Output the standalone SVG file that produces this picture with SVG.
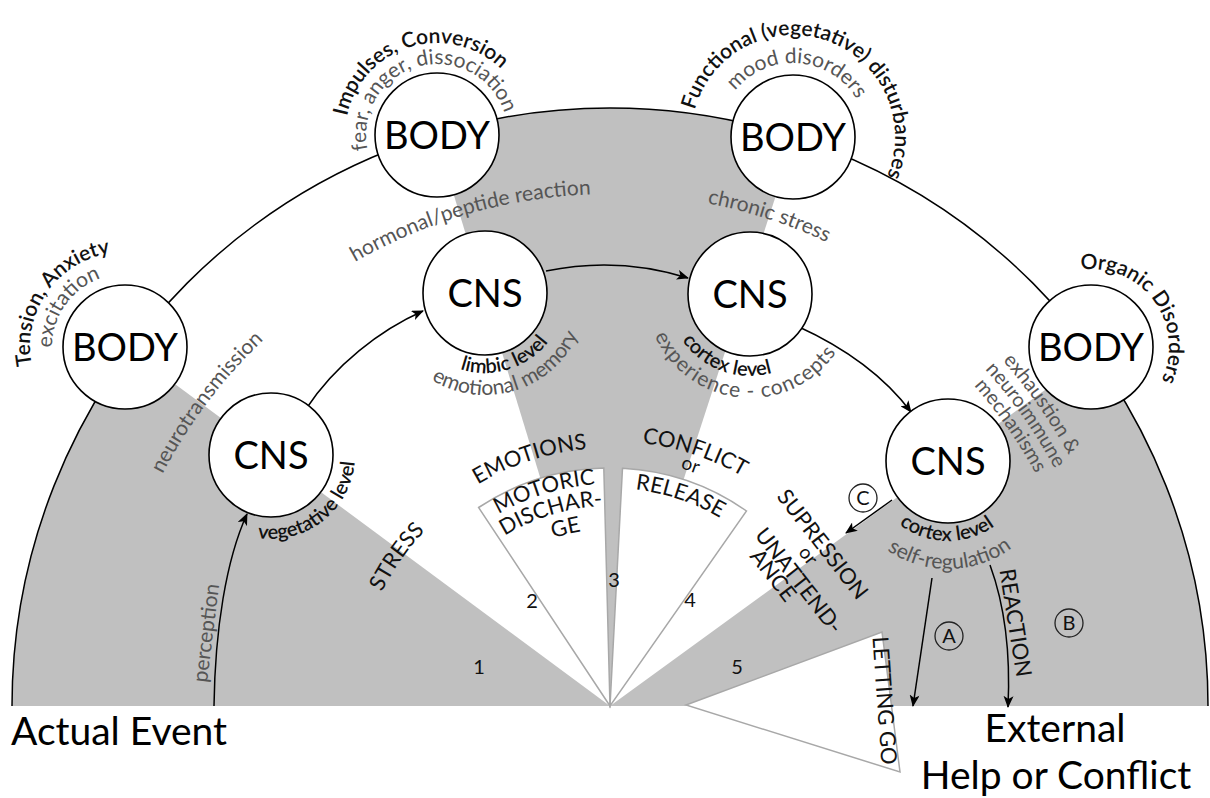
<svg xmlns="http://www.w3.org/2000/svg" width="1210" height="798" viewBox="0 0 1210 798">
<style>
text{font-family:Lato,"Open Sans","Liberation Sans",sans-serif}
.node circle{fill:#fff;stroke:#000;stroke-width:1.6}
.nl{font-size:38px;text-anchor:middle;fill:#000}
.dk{font-size:21px;font-weight:600;fill:#111;text-anchor:middle}
.lv{font-size:20px;font-weight:600;fill:#111;text-anchor:middle}
.gr{font-size:21px;fill:#555;text-anchor:middle}
.cp{font-size:22px;fill:#111;text-anchor:middle}
.sm{font-size:19px;fill:#111;text-anchor:middle}
.num{font-size:20px;fill:#111;text-anchor:middle}
.big{font-size:39px;fill:#000}
.gray{fill:#c0c0c0}
.wedge{fill:#fff;stroke:#a8a8a8;stroke-width:1.5}
.conn path{fill:none;stroke:#000;stroke-width:1.5;marker-end:url(#arr)}
.circ{fill:none;stroke:#222;stroke-width:1.3}
</style>
<defs>
<marker id="arr" viewBox="0 0 12 10" refX="11" refY="5" markerWidth="13" markerHeight="10" markerUnits="userSpaceOnUse" orient="auto"><path d="M0,0 L12,5 L0,10 L3,5 Z" fill="#000"/></marker>
<path id="o73" d="M-36.5,63.22 A73,73 0 1 1 36.5,63.22"/>
<path id="o95" d="M-47.5,82.27 A95,95 0 1 1 47.5,82.27"/>
<path id="o71" d="M-35.5,61.49 A71,71 0 1 1 35.5,61.49"/>
<path id="o92" d="M-46,79.67 A92,92 0 1 1 46,79.67"/>
<path id="o74" d="M-37,64.09 A74,74 0 1 1 37,64.09"/>
<path id="o102" d="M-51,88.33 A102,102 0 1 1 51,88.33"/>
<path id="o78" d="M-39,67.55 A78,78 0 1 1 39,67.55"/>
<path id="i84" d="M-42,-72.75 A84,84 0 1 0 42,-72.75"/>
<path id="i80" d="M-40,-69.28 A80,80 0 1 0 40,-69.28"/>
<path id="i102" d="M-51,-88.33 A102,102 0 1 0 51,-88.33"/>
<path id="i82" d="M-41,-71.01 A82,82 0 1 0 41,-71.01"/>
<path id="i104" d="M-52,-90.07 A104,104 0 1 0 52,-90.07"/>
<path id="i108" d="M-54,-93.53 A108,108 0 1 0 54,-93.53"/>
<path id="f504" d="M-252,436.46 A504,504 0 1 1 252,436.46"/>
<path id="f512" d="M-256,443.4 A512,512 0 1 1 256,443.4"/>
<path id="f523" d="M-261.5,452.93 A523,523 0 1 1 261.5,452.93"/>
<path id="f485" d="M-242.5,420.03 A485,485 0 1 1 242.5,420.03"/>
<path id="f255" d="M-127.5,220.84 A255,255 0 1 1 127.5,220.84"/>
<path id="f258" d="M-129,223.44 A258,258 0 1 1 129,223.44"/>
<path id="f222" d="M-111,192.27 A222,222 0 1 1 111,192.27"/>
<path id="f200" d="M-100,173.21 A200,200 0 1 1 100,173.21"/>
<path id="f177" d="M-88.5,153.29 A177,177 0 1 1 88.5,153.29"/>
<path id="f265" d="M-132.5,229.5 A265,265 0 1 1 132.5,229.5"/>
<path id="f248" d="M-124,214.77 A248,248 0 1 1 124,214.77"/>
<path id="f218" d="M-109,188.79 A218,218 0 1 1 109,188.79"/>
</defs>

<g id="background">
<path class="gray" d="M610,706 L12,706 A598,598 0 0 1 129.3,350.3 Z"/>
<path class="gray" d="M610,706 L435.2,134.1 A598,598 0 0 1 794.8,137.3 Z"/>
<path class="gray" d="M610,706 L1093.8,354.5 A598,598 0 0 1 1208,706 Z"/>
<path class="wedge" d="M610,706 L478.6,507.5 A238,238 0 0 1 603.8,468.1 Z"/>
<path class="wedge" d="M610,706 L622.5,468.3 A238,238 0 0 1 746.5,511 Z"/>
<path class="wedge" d="M686,705 L882,632 L900,772 Z"/>
<path d="M12,706 A598,598 0 0 1 1208,706" fill="none" stroke="#000" stroke-width="1.5"/>
</g>

<g id="connectors" class="conn">
<path d="M214,706 C215,630 226,560 247,514"/>
<path d="M306,409 C335,365 380,330 423,311"/>
<path d="M546,271 Q618,256 688,278"/>
<path d="M797,326 Q872,360 911,412"/>
<path d="M892,500 L846,533"/>
<path d="M932,578 L913,706"/>
<path d="M990,565 Q1012,625 1008,707"/>
</g>

<g id="body1" class="node">
<circle cx="125" cy="347" r="62"/>
<text class="nl" x="125" y="361">BODY</text>
<g transform="translate(125,347) rotate(-55)">
<text class="dk"><textPath href="#o95" startOffset="50%">Tension, Anxiety</textPath></text>
<text class="gr"><textPath href="#o73" startOffset="50%">excitation</textPath></text>
</g>
</g>

<g id="body2" class="node">
<circle cx="437" cy="135" r="62"/>
<text class="nl" x="437" y="149">BODY</text>
<g transform="translate(437,135) rotate(-17)">
<text class="dk"><textPath href="#o92" startOffset="50%">Impulses, Conversion</textPath></text>
</g>
<g transform="translate(437,135) rotate(-15)">
<text class="gr"><textPath href="#o71" startOffset="50%">fear, anger, dissociation</textPath></text>
</g>
</g>

<g id="body3" class="node">
<circle cx="793" cy="137" r="62"/>
<text class="nl" x="793" y="151">BODY</text>
<g transform="translate(793,137) rotate(19)">
<text class="dk"><textPath href="#o102" startOffset="50%">Functional (vegetative) disturbances</textPath></text>
</g>
<g transform="translate(793,137) rotate(4)">
<text class="gr"><textPath href="#o74" startOffset="50%">mood disorders</textPath></text>
</g>
</g>

<g id="body4" class="node">
<circle cx="1091" cy="347" r="62"/>
<text class="nl" x="1091" y="361">BODY</text>
<g transform="translate(1091,347) rotate(54)">
<text class="dk"><textPath href="#o78" startOffset="50%">Organic Disorders</textPath></text>
</g>
</g>

<g id="cns1" class="node">
<circle cx="271" cy="455" r="62"/>
<text class="nl" x="271" y="469">CNS</text>
<g transform="translate(271,455) rotate(-38)">
<text class="lv"><textPath href="#i84" startOffset="50%">vegetative level</textPath></text>
</g>
</g>

<g id="cns2" class="node">
<circle cx="485" cy="293" r="62"/>
<text class="nl" x="485" y="307">CNS</text>
<g transform="translate(485,293) rotate(-17)">
<text class="lv"><textPath href="#i80" startOffset="50%">limbic level</textPath></text>
<text class="gr"><textPath href="#i102" startOffset="50%">emotional memory</textPath></text>
</g>
</g>

<g id="cns3" class="node">
<circle cx="750" cy="294" r="62"/>
<text class="nl" x="750" y="308">CNS</text>
<g transform="translate(750,294) rotate(20)">
<text class="lv"><textPath href="#i82" startOffset="50%">cortex level</textPath></text>
</g>
<g transform="translate(750,294) rotate(5)">
<text class="gr" style="letter-spacing:1px"><textPath href="#i104" startOffset="50%">experience - concepts</textPath></text>
</g>
</g>

<g id="cns4" class="node">
<circle cx="948" cy="461" r="62"/>
<text class="nl" x="948" y="475">CNS</text>
<g transform="translate(948,461) rotate(1)">
<text class="lv"><textPath href="#i80" startOffset="50%">cortex level</textPath></text>
</g>
<g transform="translate(948,461) rotate(-1)">
<text class="gr"><textPath href="#i108" startOffset="50%">self-regulation</textPath></text>
</g>
</g>

<g id="fan-labels">
<g transform="translate(610,706) rotate(-53)"><text class="gr"><textPath href="#f504" startOffset="50%">neurotransmission</textPath></text></g>
<g transform="translate(610,706) rotate(-16)"><text class="gr"><textPath href="#f512" startOffset="50%">hormonal/peptide reaction</textPath></text></g>
<g transform="translate(610,706) rotate(18)"><text class="gr"><textPath href="#f512" startOffset="50%">chronic stress</textPath></text></g>
<g transform="translate(610,706) rotate(55)">
<text class="gr" style="font-size:20px"><textPath href="#f523" startOffset="50%">exhaustion &amp;</textPath></text>
<text class="gr" style="font-size:20px"><textPath href="#f504" startOffset="50%">neuroimmune</textPath></text>
<text class="gr" style="font-size:20px"><textPath href="#f485" startOffset="50%">mechanisms</textPath></text>
</g>
<g transform="translate(610,706) rotate(-55)"><text class="cp"><textPath href="#f255" startOffset="50%">STRESS</textPath></text></g>
<g transform="translate(610,706) rotate(-18)"><text class="cp"><textPath href="#f258" startOffset="50%">EMOTIONS</textPath></text></g>
<g transform="translate(610,706) rotate(-17)">
<text class="cp"><textPath href="#f222" startOffset="50%">MOTORIC</textPath></text>
<text class="cp"><textPath href="#f200" startOffset="50%">DISCHAR-</textPath></text>
</g>
<g transform="translate(610,706) rotate(-14)"><text class="cp"><textPath href="#f177" startOffset="50%">GE</textPath></text></g>
<g transform="translate(610,706) rotate(18.5)">
<text class="cp"><textPath href="#f265" startOffset="50%">CONFLICT</textPath></text>
<text class="sm"><textPath href="#f248" startOffset="50%">or</textPath></text>
<text class="cp"><textPath href="#f218" startOffset="50%">RELEASE</textPath></text>
</g>
<g transform="translate(823,544) rotate(52)">
<text class="cp" x="0" y="8">SUPRESSION</text>
<text class="sm" x="0" y="25">or</text>
<text class="cp" x="14" y="49">UNATTEND-</text>
<text class="cp" x="-6" y="66">ANCE</text>
</g>
<text class="cp" transform="translate(877,701) rotate(86)">LETTING GO</text>
<text class="cp" transform="translate(1008,624) rotate(81)">REACTION</text>
<text class="gr" style="text-anchor:start" transform="translate(207,683) rotate(-83)">perception</text>
<text class="num" x="479" y="674">1</text>
<text class="num" x="532" y="608">2</text>
<text class="num" x="614" y="587">3</text>
<text class="num" x="690" y="607">4</text>
<text class="num" x="737" y="674">5</text>
<circle class="circ" cx="863" cy="498" r="14"/><text class="num" x="863" y="505">C</text>
<circle class="circ" cx="949" cy="636" r="14"/><text class="num" x="949" y="643">A</text>
<circle class="circ" cx="1069" cy="623" r="14"/><text class="num" x="1069" y="630">B</text>
<text class="big" x="11" y="745">Actual Event</text>
<text class="big" x="1055" y="742" text-anchor="middle">External</text>
<text class="big" x="1056" y="789" text-anchor="middle">Help or Conflict</text>
</g>
</svg>
